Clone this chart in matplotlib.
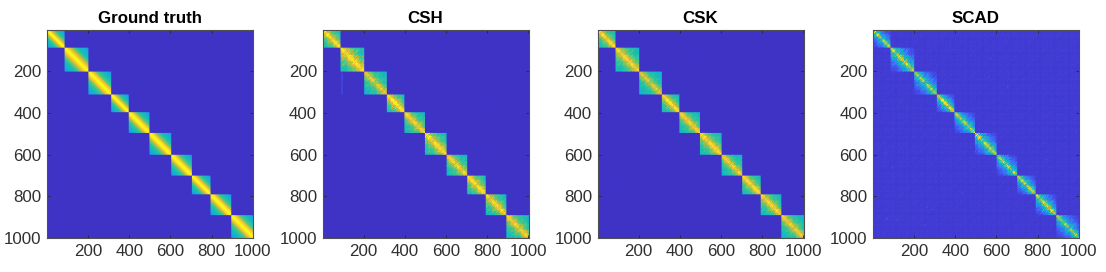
import matplotlib
matplotlib.use('Agg')
import matplotlib.pyplot as plt
from matplotlib.colors import LinearSegmentedColormap
import numpy as np

plt.rcParams['font.family'] = 'Liberation Sans'

titles = ["Ground truth", "CSH", "CSK", "SCAD"]
block_edges = [0, 88, 201, 312, 395, 497, 600, 702, 792, 893, 1000]
ticks = [200, 400, 600, 800, 1000]

# colour level against distance from the diagonal
profile_truth = [1.0, 0.9, 0.78, 0.66, 0.56, 0.49, 0.44, 0.39, 0.35, 0.31, 0.27, 0.24, 0.2]
profile_csh = [0.88, 0.76, 0.66, 0.6, 0.55, 0.51, 0.48, 0.45, 0.42, 0.4, 0.38, 0.36, 0.34]
profile_csk = [0.86, 0.74, 0.64, 0.58, 0.53, 0.49, 0.46, 0.43, 0.41, 0.39, 0.37, 0.35, 0.33]
profile_scad = [0.7, 0.46, 0.35, 0.28, 0.23, 0.19, 0.15, 0.12, 0.1, 0.08, 0.07, 0.06, 0.05]

# brightness of each block
gain_truth = [1, 1, 1, 1, 1, 1, 1, 1, 1, 1]
gain_csh = [1.05, 1.05, 0.88, 1.1, 0.95, 1.02, 0.95, 1.06, 0.98, 0.94]
gain_csk = [1.04, 1.0, 0.88, 1.06, 0.97, 1.02, 0.94, 1.05, 1.0, 0.94]
gain_scad = [0.95, 1.05, 0.9, 1.25, 0.95, 1.05, 0.9, 1.05, 1.05, 0.85]

# mottling of the estimated panels, row and column pattern
grain_a = [1.06, 0.93, 1.12, 0.97, 0.88, 1.09, 1.01]
grain_b = [0.95, 1.1, 0.9, 1.04, 1.14, 0.92, 1.0, 0.86, 1.08, 0.97, 1.05]
grain_c = [1.3, 0.7, 1.0, 1.5, 0.6, 1.15, 0.8, 1.4, 0.65, 1.1, 0.9, 1.25, 0.75]

# faint spots outside the blocks of SCAD: row, column, level
scad_spots = [(590, 60, 0.13), (905, 65, 0.16), (910, 110, 0.14), (935, 250, 0.12),
              (270, 650, 0.12), (225, 560, 0.13), (690, 330, 0.11), (700, 140, 0.1),
              (850, 260, 0.12), (860, 290, 0.11), (340, 130, 0.12), (45, 640, 0.1),
              (95, 920, 0.1), (620, 840, 0.1), (960, 660, 0.13), (230, 730, 0.1),
              (500, 250, 0.09), (135, 570, 0.1), (780, 430, 0.1), (660, 90, 0.11)]
# stray column in CSH: rows it covers, its column, its level
csh_line_rows = [205, 210, 215, 220, 225, 230, 235, 240, 245, 250, 255, 260, 265, 270, 275,
                 280, 285, 290, 295, 300, 305]
csh_line_col = 90
csh_line_level = 0.09

parula_stops = [(0.2500, 0.2000, 0.7800), (0.2810, 0.3228, 0.9579), (0.1786, 0.5289, 0.9682),
                (0.0689, 0.6948, 0.8394), (0.1000, 0.7400, 0.7000), (0.2161, 0.7843, 0.5923),
                (0.5000, 0.7800, 0.3500), (0.8000, 0.7500, 0.2000), (0.9892, 0.7300, 0.2300),
                (0.9600, 0.8700, 0.1500), (0.9769, 0.9839, 0.0805)]
parula = LinearSegmentedColormap.from_list("parula", parula_stops)

STEP = 5


def build_matrix(profile, gains, grainy=0.0, floor=0.0):
    n = 1000 // STEP
    mat = np.zeros((n, n))
    for r in range(n):
        for c in range(n):
            g_cell = 1.0
            if grainy:
                g = (grain_a[(r // 2) % 7] * grain_a[(c // 2) % 7] * grain_b[((r + c) // 2) % 11]
                     * (grain_c[(r + 5 * c) % 13] + grain_c[(c + 5 * r) % 13]) / 2)
                g_cell = 1 + grainy * (g - 1)
            mat[r, c] = floor * g_cell
            for b in range(len(gains)):
                lo, hi = block_edges[b] // STEP, block_edges[b + 1] // STEP
                if lo <= r < hi and lo <= c < hi:
                    d = abs(r - c) / max(hi - lo - 1, 1)
                    mat[r, c] = profile[int(d * (len(profile) - 1))] * gains[b] * g_cell
    return mat


mat_truth = build_matrix(profile_truth, gain_truth)
mat_csh = build_matrix(profile_csh, gain_csh, grainy=0.5)
mat_csk = build_matrix(profile_csk, gain_csk, grainy=0.4)
mat_scad = build_matrix(profile_scad, gain_scad, grainy=1.2, floor=0.03)
for y in csh_line_rows:
    mat_csh[y // STEP, csh_line_col // STEP] = csh_line_level
for row, col, val in scad_spots:
    mat_scad[row // STEP, col // STEP] = val
panels = [mat_truth, mat_csh, mat_csk, mat_scad]

fig = plt.figure(figsize=(11.06, 2.72), dpi=100)
lefts = [47, 322.5, 597.5, 873]
for i in range(4):
    ax = fig.add_axes([lefts[i] / 1106, 1 - 238 / 272, 206 / 1106, 208 / 272])
    ax.imshow(panels[i], cmap=parula, vmin=0, vmax=1, extent=(0.5, 1000.5, 1000.5, 0.5),
              aspect='auto', interpolation='bilinear')
    ax.set_xticks(ticks)
    ax.set_yticks(ticks)
    ax.tick_params(direction='in', length=2, width=0.6, top=True, right=True,
                   labelsize=12.2, labelcolor='#303030', color='#262626', pad=4)
    for s in ax.spines.values():
        s.set_color('#505050')
        s.set_linewidth(0.8)
    ax.set_title(titles[i], fontsize=12.2, fontweight='bold', pad=5)

fig.savefig('out.png', dpi=100)
